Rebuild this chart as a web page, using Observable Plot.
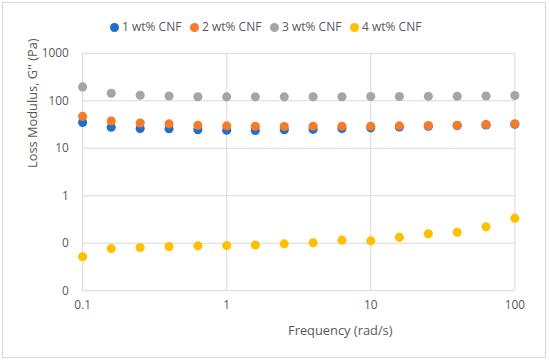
<!DOCTYPE html>
<html>
<head>
<meta charset="utf-8">
<script src="https://cdn.jsdelivr.net/npm/d3@7"></script>
<script src="https://cdn.jsdelivr.net/npm/@observablehq/plot@0.6"></script>
<style>
  html, body { margin: 0; padding: 0; background: #fff; }
  #chart { position: relative; width: 544px; height: 356px; margin: 2px; border: 1px solid #d9d9d9; box-sizing: border-box; font-family: "Open Sans", "Liberation Sans", sans-serif; color: #595959; overflow: hidden; }
  #legend { position: absolute; left: 0; top: 14px; width: 100%; height: 20px; font-size: 12px; color: #595959; }
  .item { position: absolute; top: 0; white-space: nowrap; line-height: 20px; }
  .sw { display: inline-block; width: 9px; height: 9px; border-radius: 50%; vertical-align: -1px; margin-right: 3px; }
  #plot { position: absolute; left: -2px; top: 34px; }
</style>
</head>
<body>
<div id="chart">
  <div id="legend"></div>
  <div id="plot"></div>
</div>
<script>
const frequency = [0.1, 0.158, 0.251, 0.398, 0.631, 1, 1.58, 2.51, 3.98, 6.31, 10, 15.8, 25.1, 39.8, 63.1, 100];
const cnf1 = [34.8, 27.8, 26.1, 25.7, 24.5, 24.0, 23.7, 24.5, 25.0, 26.0, 26.9, 28.0, 29.0, 30.0, 31.0, 32.0];
const cnf2 = [47.0, 37.6, 34.0, 32.6, 30.5, 29.6, 29.0, 28.7, 29.0, 29.0, 29.0, 29.6, 30.1, 30.5, 31.6, 32.6];
const cnf3 = [196, 144, 131, 126, 122, 121, 121, 121, 122, 122, 123, 123, 124, 125, 126, 129];
const cnf4 = [0.052, 0.077, 0.081, 0.085, 0.088, 0.089, 0.092, 0.097, 0.102, 0.116, 0.112, 0.133, 0.158, 0.170, 0.222, 0.337];
const seriesNames = ["1 wt% CNF", "2 wt% CNF", "3 wt% CNF", "4 wt% CNF"];
const seriesColors = ["#1f6fd0", "#f47b2a", "#a5a5a5", "#ffc000"];
const xTicks = [0.1, 1, 10, 100];
const xTickLabels = ["0.1", "1", "10", "100"];
const yTicks = [1000, 100, 10, 1, 0.1, 0.01];
const yTickLabels = ["1000", "100", "10", "1", "0", "0"];

const allSeries = [cnf1, cnf2, cnf3, cnf4];
const data = [];
allSeries.forEach((vals, s) => vals.forEach((v, i) => data.push({series: seriesNames[s], x: frequency[i], y: v})));

const grid = "#d9d9d9";
const plot = Plot.plot({
  width: 550,
  height: 326,
  marginLeft: 82,
  marginRight: 31,
  marginTop: 16,
  marginBottom: 70,
  style: {fontFamily: "'Open Sans', 'Liberation Sans', sans-serif", fontSize: "12px", color: "#595959", background: "transparent"},
  x: {type: "log", domain: [0.1, 100], ticks: xTicks, tickFormat: d => xTickLabels[xTicks.indexOf(d)], tickSize: 0, tickPadding: 10, label: null},
  y: {type: "log", domain: [0.01, 1000], ticks: yTicks, tickFormat: d => yTickLabels[yTicks.indexOf(d)], tickSize: 0, tickPadding: 14, label: null},
  color: {domain: seriesNames, range: seriesColors},
  marks: [
    Plot.gridY(yTicks, {stroke: grid, strokeOpacity: 1, strokeWidth: 1}),
    Plot.gridX(xTicks, {stroke: grid, strokeOpacity: 1, strokeWidth: 1}),
    Plot.axisX({ticks: xTicks, tickFormat: d => xTickLabels[xTicks.indexOf(d)], tickSize: 0, tickPadding: 10, label: null, fill: "#595959"}),
    Plot.axisY({ticks: yTicks, tickFormat: d => yTickLabels[yTicks.indexOf(d)], tickSize: 0, tickPadding: 14, label: null, fill: "#595959"}),
    Plot.dot(data, {x: "x", y: "y", fill: "series", r: 4.6, stroke: null}),
    Plot.text(["Frequency (rad/s)"], {frameAnchor: "bottom", x: null, dx: 42, dy: 45, text: d => d, fontSize: 13, fill: "#595959"}),
    Plot.text(["Loss Modulus, G'' (Pa)"], {frameAnchor: "left", dx: -50, dy: -4, rotate: -90, text: d => d, fontSize: 13, fill: "#595959"})
  ]
});
document.getElementById("plot").appendChild(plot);

const legend = document.getElementById("legend");
const legendX = [107, 187, 267, 347];
seriesNames.forEach((name, i) => {
  const it = document.createElement("div");
  it.className = "item";
  it.style.left = legendX[i] + "px";
  it.innerHTML = `<span class="sw" style="background:${seriesColors[i]}"></span>${name}`;
  legend.appendChild(it);
});
</script>
</body>
</html>
